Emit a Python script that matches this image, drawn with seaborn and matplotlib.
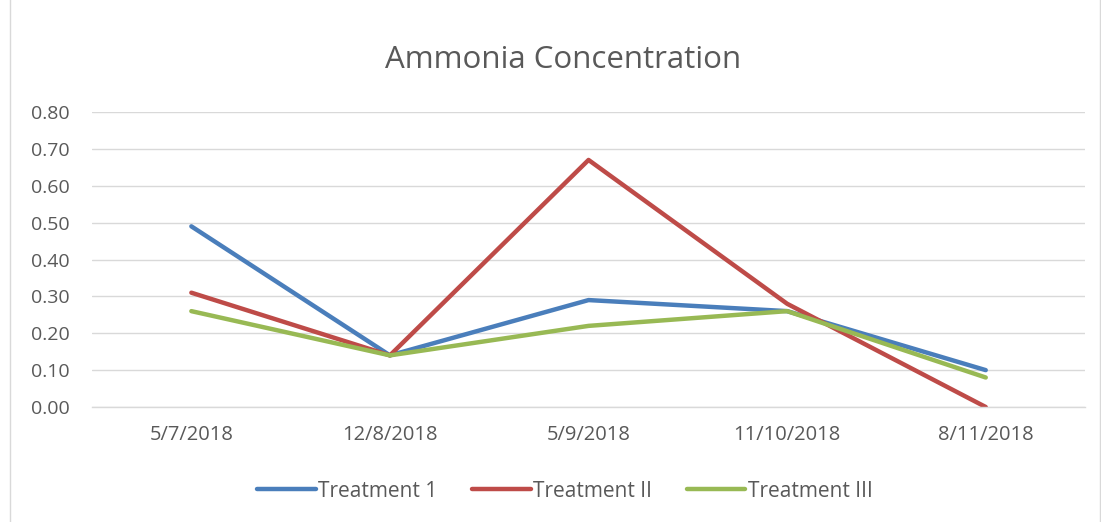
import pandas as pd
import numpy as np
import matplotlib.pyplot as plt
import seaborn as sns
from matplotlib.patches import Rectangle

# Values
dates = ['5/7/2018', '12/8/2018', '5/9/2018', '11/10/2018', '8/11/2018']
treatment_1 = [0.49, 0.14, 0.29, 0.26, 0.10]
treatment_2 = [0.31, 0.14, 0.67, 0.28, 0.00]
treatment_3 = [0.26, 0.14, 0.22, 0.26, 0.08]
series_names = ['Treatment 1', 'Treatment II', 'Treatment III']
y_ticks = [0.0, 0.1, 0.2, 0.3, 0.4, 0.5, 0.6, 0.7, 0.8]

palette = {'Treatment 1': '#4A7EBB', 'Treatment II': '#BE4B48', 'Treatment III': '#98B954'}
text_col = '#595959'
grid_col = '#D9D9D9'

# long-form table for seaborn
frames = []
for name, vals in zip(series_names, [treatment_1, treatment_2, treatment_3]):
    frames.append(pd.DataFrame({'date': dates, 'value': vals, 'series': name}))
data = pd.concat(frames, ignore_index=True)

sns.set_style('white')
plt.rcParams['font.family'] = ['Open Sans', 'DejaVu Sans']

fig = plt.figure(figsize=(11.01, 5.22), dpi=100)
ax = fig.add_axes([0.0836, 0.2203, 0.9019, 0.5651])

sns.lineplot(data=data, x='date', y='value', hue='series', palette=palette,
             linewidth=3.2, sort=False, ax=ax, solid_capstyle='round')

ax.set_xlim(-0.5, len(dates) - 0.5)
ax.set_ylim(0, 0.8)
ax.set_yticks(y_ticks)
ax.set_yticklabels([f'{v:.2f}' for v in y_ticks])
ax.set_xticks(range(len(dates)))
ax.set_xticklabels(dates)
ax.set_xticks(np.arange(-0.5, len(dates), 1.0), minor=True)
ax.tick_params(axis='x', which='major', length=0, pad=13, labelsize=14.5, colors=text_col)
ax.tick_params(axis='x', which='minor', length=6, width=1, color=grid_col, direction='out')
ax.tick_params(axis='y', length=0, pad=16, labelsize=14, colors=text_col)
ax.set_xlabel('')
ax.set_ylabel('')

ax.yaxis.grid(True, color=grid_col, linewidth=1)
ax.set_axisbelow(True)
for side in ['top', 'right', 'left']:
    ax.spines[side].set_visible(False)
ax.spines['bottom'].set_color(grid_col)
ax.spines['bottom'].set_linewidth(1)

fig.text(0.511, 0.886, 'Ammonia Concentration', ha='center', va='center',
         fontsize=22.5, color=text_col)

handles, labels = ax.get_legend_handles_labels()
ax.get_legend().remove()
leg = fig.legend(handles, labels, loc='center', bbox_to_anchor=(0.513, 0.059), ncol=3,
                 frameon=False, fontsize=15, handlelength=2.8, handletextpad=0.1,
                 columnspacing=1.7, labelcolor=text_col)
for line in leg.get_lines():
    line.set_linewidth(3.2)
    line.set_solid_capstyle('round')

# outer chart border
fig.patches.append(Rectangle((0.009, -0.01), 0.99, 1.02, transform=fig.transFigure,
                             fill=False, edgecolor=grid_col, linewidth=1))

fig.savefig('out.png', dpi=100)
